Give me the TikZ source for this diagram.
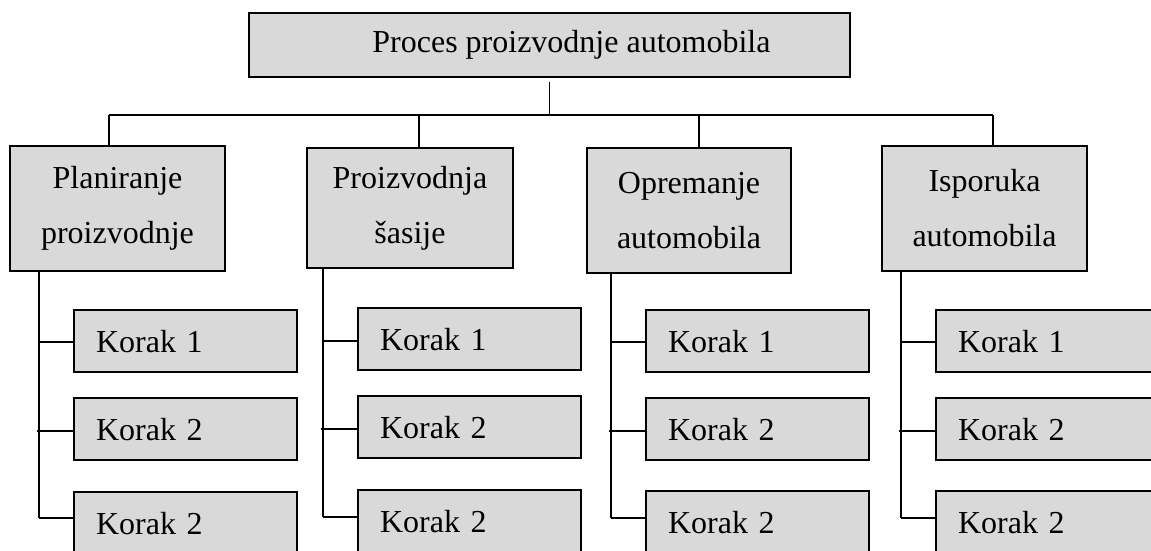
\documentclass[tikz,border=0pt]{standalone}
\usepackage{fontspec}
\setmainfont{Liberation Serif}
\definecolor{boxgray}{HTML}{D9D9D9}
\begin{document}
\begin{tikzpicture}[x=0.75pt,y=-0.75pt,
  every node/.style={font=\fontsize{24}{41.25}\selectfont},
  box/.style={draw=black,fill=boxgray,line width=1.6pt,inner sep=0pt},
  topbox/.style={box,minimum width=450.75pt,minimum height=48pt},
  phase/.style={box,align=center,minimum height=93.75pt},
  stepbox/.style={box,anchor=north west,text width=134.25pt,inner xsep=16.5pt,inner ysep=0pt,minimum height=46.5pt,align=left},
  conn/.style={line width=1.3pt}]
\useasboundingbox (0,0) rectangle (1151,550);
\begin{scope}
\clip (0,0) rectangle (1151,550);
% top
\node[topbox] (top) at (549.5,45) {\hspace*{33pt}Proces proizvodnje automobila};
% phases
\node[phase,minimum width=161.25pt] (p1) at (117.5,208.5) {Planiranje\\proizvodnje};
\node[phase,minimum width=154.5pt,minimum height=90pt] (p2) at (410,208) {Proizvodnja\\šasije};
\node[phase,minimum width=153pt] (p3) at (689,210.5) {Opremanje\\automobila};
\node[phase,minimum width=153.75pt] (p4) at (984.5,208.5) {Isporuka\\automobila};
% steps
\node[stepbox] (k11) at (73,309) {Korak 1};
\node[stepbox] (k12) at (73,397) {Korak 2};
\node[stepbox] (k13) at (73,491) {Korak 2};
\node[stepbox] (k21) at (357,307) {Korak 1};
\node[stepbox] (k22) at (357,395) {Korak 2};
\node[stepbox] (k23) at (357,489) {Korak 2};
\node[stepbox] (k31) at (645,309) {Korak 1};
\node[stepbox] (k32) at (645,397) {Korak 2};
\node[stepbox] (k33) at (645,490) {Korak 2};
\node[stepbox] (k41) at (935,309) {Korak 1};
\node[stepbox] (k42) at (935,397) {Korak 2};
\node[stepbox] (k43) at (935,490) {Korak 2};
% bus
\coordinate (bc) at (549,115);
\coordinate (b1) at (109,115);
\coordinate (b2) at (419,115);
\coordinate (b3) at (699,115);
\coordinate (b4) at (993,115);
\draw[conn,shorten <=3pt] (top.south) -- (top.south |- bc);
\draw[conn] (b1) -- (b4);
\draw[conn] (b1) -- (b1 |- p1.north);
\draw[conn] (b2) -- (b2 |- p2.north);
\draw[conn] (b3) -- (b3 |- p3.north);
\draw[conn] (b4) -- (b4 |- p4.north);
% column verticals
\coordinate (v1) at (39,518);
\coordinate (v2) at (323,517);
\coordinate (v3) at (611,518);
\coordinate (v4) at (901,518);
\draw[conn] (v1 |- p1.south) -- (v1);
\draw[conn] (v2 |- p2.south) -- (v2);
\draw[conn] (v3 |- p3.south) -- (v3);
\draw[conn] (v4 |- p4.south) -- (v4);
% branches
\coordinate (h11) at (39,342); \coordinate (h12) at (37,431);
\coordinate (h21) at (323,341); \coordinate (h22) at (321,429);
\coordinate (h31) at (611,342); \coordinate (h32) at (609,431);
\coordinate (h41) at (901,342); \coordinate (h42) at (899,431);
\draw[conn] (h11) -- (h11 -| k11.west);
\draw[conn] (h12) -- (h12 -| k12.west);
\draw[conn] (v1) -- (v1 -| k13.west);
\draw[conn] (h21) -- (h21 -| k21.west);
\draw[conn] (h22) -- (h22 -| k22.west);
\draw[conn] (v2) -- (v2 -| k23.west);
\draw[conn] (h31) -- (h31 -| k31.west);
\draw[conn] (h32) -- (h32 -| k32.west);
\draw[conn] (v3) -- (v3 -| k33.west);
\draw[conn] (h41) -- (h41 -| k41.west);
\draw[conn] (h42) -- (h42 -| k42.west);
\draw[conn] (v4) -- (v4 -| k43.west);
\end{scope}
\end{tikzpicture}
\end{document}
